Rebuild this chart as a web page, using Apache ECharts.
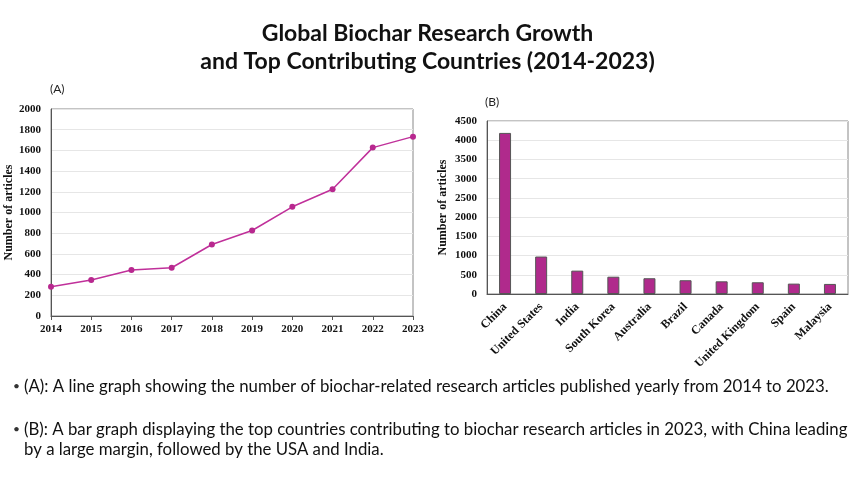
<!DOCTYPE html>
<html><head><meta charset="utf-8">
<script src="https://cdn.jsdelivr.net/npm/echarts@6/dist/echarts.min.js"></script>
<style>html,body{margin:0;padding:0;background:#fff}#c{width:855px;height:481px}</style>
</head><body><div id="c"></div>
<script>
const years = ['2014','2015','2016','2017','2018','2019','2020','2021','2022','2023'];
const articlesPerYear = [283, 347, 444, 466, 691, 826, 1055, 1225, 1627, 1733];
const countries = ['China','United States','India','South Korea','Australia','Brazil','Canada','United Kingdom','Spain','Malaysia'];
const articlesPerCountry = [4190, 975, 608, 450, 410, 358, 330, 305, 270, 262];
const lineTicks = [0, 2000, 200];
const barTicks = [0, 4500, 500];
const titleLines = ['Global Biochar Research Growth', 'and Top Contributing Countries (2014-2023)'];
const notes = [
  '(A): A line graph showing the number of biochar-related research articles published yearly from 2014 to 2023.',
  '(B): A bar graph displaying the top countries contributing to biochar research articles in 2023, with China leading',
  'by a large margin, followed by the USA and India.'
];

const serif = '"Liberation Serif", "DejaVu Serif", serif';
const sans = 'Lato, "Open Sans", sans-serif';
const axisLbl = {fontFamily: serif, fontWeight: 'bold', fontSize: 11, color: '#111'};
const plain = v => String(v);
const chart = echarts.init(document.getElementById('c'));
chart.setOption({
  backgroundColor: '#fff',
  animation: false,
  title: [{
    text: titleLines.join('\n'), left: 'center', top: 15,
    textStyle: {fontFamily: sans, fontWeight: 'bold', fontSize: 23, lineHeight: 28, color: '#111'}
  }],
  grid: [
    {left: 51, right: 442, top: 109, bottom: 165, show: true, borderColor: '#888', borderWidth: 1},
    {left: 487, right: 7, top: 121, bottom: 187, show: true, borderColor: '#888', borderWidth: 1}
  ],
  xAxis: [
    {gridIndex: 0, type: 'category', data: years, boundaryGap: false,
     axisLine: {lineStyle: {color: '#555'}}, axisTick: {show: true, length: 4, lineStyle: {color: '#555'}},
     axisLabel: Object.assign({margin: 8}, axisLbl)},
    {gridIndex: 1, type: 'category', data: countries, boundaryGap: true,
     axisLine: {lineStyle: {color: '#555'}}, axisTick: {show: false},
     axisLabel: Object.assign({}, axisLbl, {rotate: 45, margin: 11, interval: 0, fontSize: 12})}
  ],
  yAxis: [
    {gridIndex: 0, type: 'value', min: lineTicks[0], max: lineTicks[1], interval: lineTicks[2],
     name: 'Number of articles', nameLocation: 'middle', nameGap: 35, nameRotate: 90,
     nameTextStyle: {fontFamily: serif, fontWeight: 'bold', fontSize: 12, color: '#111'},
     axisLine: {show: true, lineStyle: {color: '#555'}}, axisTick: {show: false},
     splitLine: {lineStyle: {color: '#e6e6e6'}}, axisLabel: Object.assign({margin: 10, formatter: plain}, axisLbl)},
    {gridIndex: 1, type: 'value', min: barTicks[0], max: barTicks[1], interval: barTicks[2],
     name: 'Number of articles', nameLocation: 'middle', nameGap: 38, nameRotate: 90,
     nameTextStyle: {fontFamily: serif, fontWeight: 'bold', fontSize: 12, color: '#111'},
     axisLine: {show: true, lineStyle: {color: '#555'}}, axisTick: {show: false},
     splitLine: {lineStyle: {color: '#e6e6e6'}}, axisLabel: Object.assign({margin: 10, formatter: plain}, axisLbl)}
  ],
  series: [
    {type: 'line', xAxisIndex: 0, yAxisIndex: 0, data: articlesPerYear,
     symbol: 'circle', symbolSize: 6, lineStyle: {color: '#c0309a', width: 1.5},
     itemStyle: {color: '#b8288f'}},
    {type: 'bar', xAxisIndex: 1, yAxisIndex: 1, data: articlesPerCountry, barWidth: 12,
     itemStyle: {color: '#b02a8c', borderColor: '#555', borderWidth: 1}}
  ],
  graphic: [
    {type: 'text', left: 50, top: 83, style: {text: '(A)', font: '12px ' + sans, fill: '#222'}},
    {type: 'text', left: 485, top: 96, style: {text: '(B)', font: '12px ' + sans, fill: '#222'}},
    {type: 'text', left: 13, top: 380, style: {text: '•', font: '12px ' + sans, fill: '#333'}},
    {type: 'text', left: 24, top: 378, style: {text: notes[0], font: '16.8px ' + sans, fill: '#111'}},
    {type: 'text', left: 13, top: 423, style: {text: '•', font: '12px ' + sans, fill: '#333'}},
    {type: 'text', left: 24, top: 421, style: {text: notes[1], font: '16.8px ' + sans, fill: '#111'}},
    {type: 'text', left: 24, top: 441, style: {text: notes[2], font: '16.8px ' + sans, fill: '#111'}}
  ]
});
</script></body></html>
